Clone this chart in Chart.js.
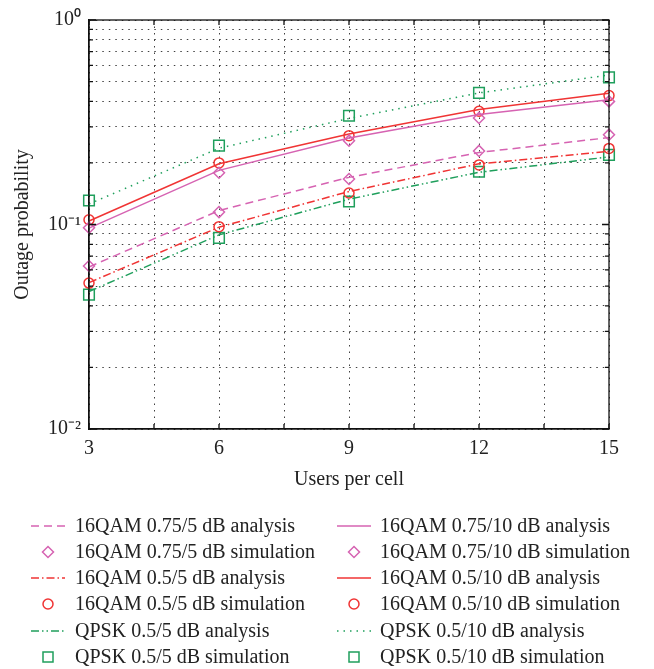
<!DOCTYPE html>
<html>
<head>
<meta charset="utf-8">
<script src="https://cdn.jsdelivr.net/npm/chart.js@4"></script>
<style>
    body { margin: 0; background: #fff; }
    #wrap { position: relative; width: 654px; height: 669px; }
    #legend { position: absolute; left: 0; top: 0; width: 654px; height: 669px; pointer-events: none; }
    .lg-item { position: absolute; height: 24px; }
    .lg-sw { position: absolute; top: 2px; }
    .lg-item span { position: absolute; white-space: nowrap; line-height: 24px; font: 20px "Liberation Serif", serif; color: #222; }
</style>
</head>
<body>
<div id="wrap">
    <canvas id="chart" width="654" height="500"></canvas>
    <div id="legend"></div>
</div>
<script>
// users per cell
var users = [3, 6, 9, 12, 15];
var xTickLabels = [3, 6, 9, 12, 15];
var yDecades = [-2, -1, 0];

// analysis curves
var qam75_5_ana = [0.062, 0.117, 0.170, 0.225, 0.266];
var qam5_5_ana = [0.052, 0.097, 0.145, 0.198, 0.228];
var qpsk_5_ana = [0.047, 0.089, 0.133, 0.180, 0.214];
var qam75_10_ana = [0.096, 0.184, 0.265, 0.345, 0.407];
var qam5_10_ana = [0.104, 0.198, 0.277, 0.365, 0.438];
var qpsk_10_ana = [0.126, 0.236, 0.330, 0.440, 0.538];

// simulation points
var qam75_5_sim = [0.0627, 0.115, 0.167, 0.229, 0.275];
var qam5_5_sim = [0.0517, 0.0976, 0.1426, 0.1956, 0.2355];
var qpsk_5_sim = [0.0454, 0.086, 0.1295, 0.181, 0.219];
var qam75_10_sim = [0.0965, 0.179, 0.257, 0.332, 0.400];
var qam5_10_sim = [0.1055, 0.200, 0.272, 0.358, 0.427];
var qpsk_10_sim = [0.131, 0.243, 0.340, 0.440, 0.524];

var pink = '#d663b2',
    red = '#f03434',
    green = '#1f9f5c';

var FONT = '"Liberation Serif", serif';

function pts(ys) {
    return users.map(function (u, i) { return {x: u, y: ys[i]}; });
}

function ana(label, ys, color, dash) {
    return {
        label: label, data: pts(ys), borderColor: color, borderWidth: 1.5,
        borderDash: dash, pointRadius: 0, fill: false, tension: 0, clip: false,
        kind: 'line'
    };
}

function sim(label, ys, color, style, r) {
    return {
        label: label, data: pts(ys), showLine: false, borderColor: color,
        backgroundColor: 'rgba(0,0,0,0)', pointStyle: style, pointRadius: r,
        pointBorderWidth: 1.5, pointBorderColor: color, clip: false,
        kind: 'point'
    };
}

var datasets = [
    ana('16QAM 0.75/5 dB analysis', qam75_5_ana, pink, [8, 5]),
    sim('16QAM 0.75/5 dB simulation', qam75_5_sim, pink, 'rectRot', 5.5),
    ana('16QAM 0.5/5 dB analysis', qam5_5_ana, red, [8, 3, 1.5, 3]),
    sim('16QAM 0.5/5 dB simulation', qam5_5_sim, red, 'circle', 5),
    ana('QPSK 0.5/5 dB analysis', qpsk_5_ana, green, [8, 3, 1.5, 3, 1.5, 3]),
    sim('QPSK 0.5/5 dB simulation', qpsk_5_sim, green, 'rect', 7.5),
    ana('16QAM 0.75/10 dB analysis', qam75_10_ana, pink, []),
    sim('16QAM 0.75/10 dB simulation', qam75_10_sim, pink, 'rectRot', 5.5),
    ana('16QAM 0.5/10 dB analysis', qam5_10_ana, red, []),
    sim('16QAM 0.5/10 dB simulation', qam5_10_sim, red, 'circle', 5),
    ana('QPSK 0.5/10 dB analysis', qpsk_10_ana, green, [1.5, 5]),
    sim('QPSK 0.5/10 dB simulation', qpsk_10_sim, green, 'rect', 7.5)
];

var SUP = {'0': '\u2070', '1': '\u00B9', '2': '\u00B2', '-': '\u207B'};
function powLabel(e) {
    return '10' + String(e).split('').map(function (c) { return SUP[c]; }).join('');
}

// gridlines at 1..9 x 10^k
var yGrid = [];
yDecades.forEach(function (e) {
    if (e === 0) { yGrid.push(1); return; }
    for (var m = 1; m <= 9; m++) yGrid.push(+(m * Math.pow(10, e)).toPrecision(3));
});

// box around the plot with inward tick marks
var framePlugin = {
    id: 'frame',
    afterDraw: function (chart) {
        var ctx = chart.ctx, a = chart.chartArea,
            xs = chart.scales.x, ys = chart.scales.y;
        ctx.save();
        ctx.strokeStyle = '#111';
        ctx.lineWidth = 1.3;
        ctx.strokeRect(a.left, a.top, a.right - a.left, a.bottom - a.top);
        ctx.beginPath();
        xs.ticks.forEach(function (t) {
            var px = xs.getPixelForValue(t.value);
            ctx.moveTo(px, a.bottom); ctx.lineTo(px, a.bottom - 5);
            ctx.moveTo(px, a.top); ctx.lineTo(px, a.top + 5);
        });
        ys.ticks.forEach(function (t) {
            var py = ys.getPixelForValue(t.value),
                len = t.label ? 7 : 4;
            ctx.moveTo(a.left, py); ctx.lineTo(a.left + len, py);
            ctx.moveTo(a.right, py); ctx.lineTo(a.right - len, py);
        });
        ctx.stroke();
        ctx.restore();
    }
};

var chart = new Chart(document.getElementById('chart'), {
    type: 'line',
    data: {datasets: datasets},
    options: {
        responsive: false,
        animation: false,
        layout: {padding: {top: 16, right: 45, left: 0, bottom: 0}},
        plugins: {legend: {display: false}, tooltip: {enabled: false}},
        scales: {
            x: {
                type: 'linear', min: 3, max: 15,
                afterBuildTicks: function (s) {
                    var t = [];
                    for (var v = 3; v <= 15; v += 1.5) t.push({value: v});
                    s.ticks = t;
                },
                afterFit: function (s) { s.height = 71; },
                ticks: {
                    autoSkip: false, maxRotation: 0, padding: 8, color: '#222',
                    font: {family: FONT, size: 20},
                    callback: function (v) { return xTickLabels.indexOf(v) >= 0 ? String(v) : ''; }
                },
                grid: {color: 'rgba(0,0,0,0.75)', lineWidth: 1, drawTicks: false},
                border: {display: true, color: '#111', width: 1.3, dash: [1.5, 5]},
                title: {
                    display: true, text: 'Users per cell', color: '#222',
                    font: {family: FONT, size: 20}, padding: {top: 4, bottom: 8}
                }
            },
            y: {
                type: 'logarithmic', min: 0.01, max: 1,
                afterBuildTicks: function (s) {
                    s.ticks = yGrid.map(function (v) { return {value: v}; });
                },
                afterFit: function (s) { s.width = 89; },
                ticks: {
                    autoSkip: false, padding: 8, color: '#222',
                    font: {family: FONT, size: 20},
                    callback: function (v) {
                        var l = Math.log10(v), e = Math.round(l);
                        return Math.abs(l - e) < 1e-6 ? powLabel(e) : '';
                    }
                },
                grid: {color: 'rgba(0,0,0,0.75)', lineWidth: 1, drawTicks: false},
                border: {display: true, color: '#111', width: 1.3, dash: [1.5, 5]},
                title: {
                    display: true, text: 'Outage probability', color: '#222',
                    font: {family: FONT, size: 20}, padding: {top: 11, bottom: 4}
                }
            }
        }
    },
    plugins: [framePlugin]
});

// legend in two columns, drawn from the dataset styles
var rowY = [526, 552, 578, 604, 631, 657];
var colSwatch = [31, 337], colText = [75, 380];
var legend = document.getElementById('legend');

function swatch(ds) {
    var c = ds.borderColor, s = '<svg width="34" height="20" xmlns="http://www.w3.org/2000/svg">';
    if (ds.kind === 'line') {
        s += '<line x1="0" y1="10" x2="34" y2="10" stroke="' + c + '" stroke-width="1.5"' +
            (ds.borderDash.length ? ' stroke-dasharray="' + ds.borderDash.join(',') + '"' : '') + '/>';
    } else if (ds.pointStyle === 'circle') {
        s += '<circle cx="17" cy="10" r="5" fill="none" stroke="' + c + '" stroke-width="1.5"/>';
    } else if (ds.pointStyle === 'rect') {
        s += '<rect x="12" y="5" width="10" height="10" fill="none" stroke="' + c + '" stroke-width="1.5"/>';
    } else {
        s += '<polygon points="17,4.5 22.5,10 17,15.5 11.5,10" fill="none" stroke="' + c + '" stroke-width="1.5"/>';
    }
    return s + '</svg>';
}

datasets.forEach(function (ds, i) {
    var col = i < 6 ? 0 : 1, row = i % 6;
    var item = document.createElement('div');
    item.className = 'lg-item';
    item.style.left = '0px';
    item.style.top = (rowY[row] - 12) + 'px';
    item.innerHTML =
        '<div class="lg-sw" style="left:' + colSwatch[col] + 'px">' + swatch(ds) + '</div>' +
        '<span style="left:' + colText[col] + 'px;top:0">' + ds.label + '</span>';
    legend.appendChild(item);
});
</script>
</body>
</html>
